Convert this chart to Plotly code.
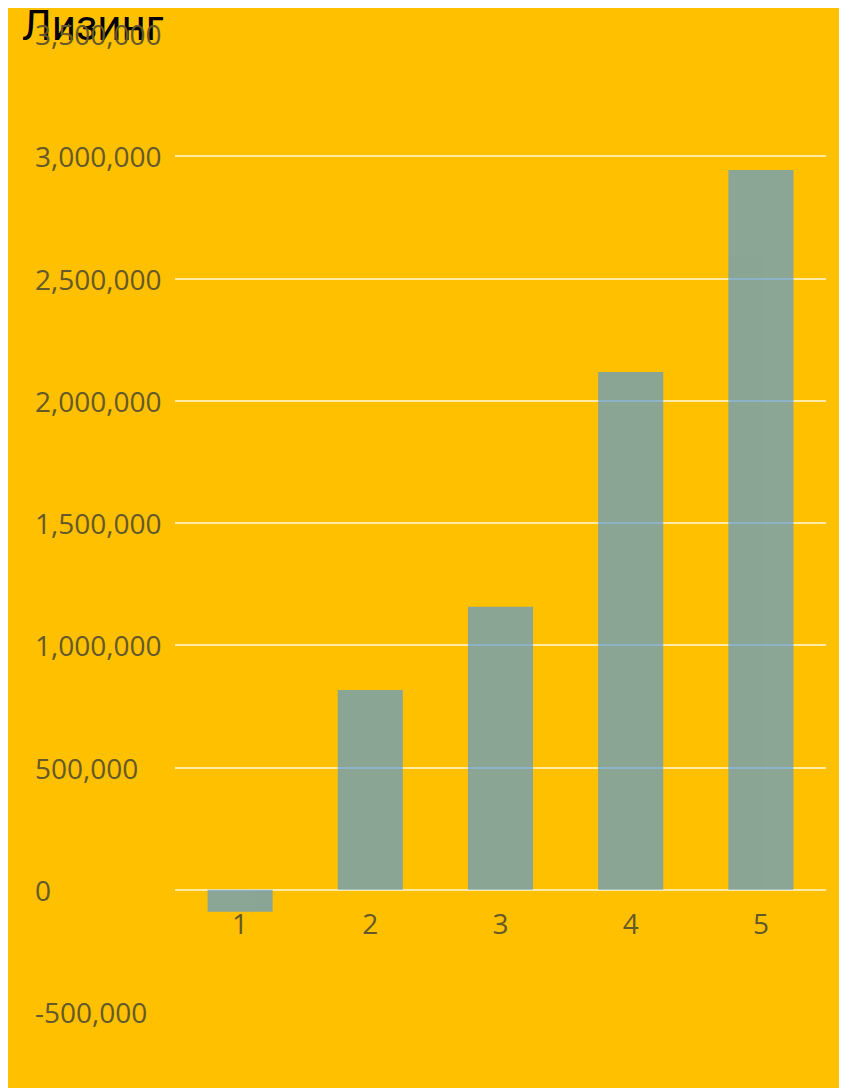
import plotly.graph_objects as go

categories = ["1", "2", "3", "4", "5"]
values = [-90000, 817000, 1157000, 2118000, 2944000]
y_tickvals = [-500000, 0, 500000, 1000000, 1500000, 2000000, 2500000, 3000000, 3500000]
y_ticktext = ["-500,000", "0", "500,000", "1,000,000", "1,500,000", "2,000,000",
              "2,500,000", "3,000,000", "3,500,000"]
title_text = "Лизинг"

W, H = 847, 1088
ml, mr, mt, mb = 167, 29, 26, 84
pw = 651

ymin, ymax = -500000, 3500000
zero_frac = (0 - ymin) / (ymax - ymin)

tick_color = "#65592A"
tick_font = dict(family="Open Sans, Noto Sans, sans-serif", size=28, color=tick_color)

fig = go.Figure(go.Bar(
    x=categories,
    y=values,
    marker=dict(color="#5B9BD5", line=dict(width=0)),
    opacity=0.7,
    width=0.5,
))

# left-aligned y tick labels
label_x = (25 - ml) / pw
annotations = [
    dict(x=label_x, xref="paper", y=v, yref="y", text=t, showarrow=False,
         xanchor="left", yanchor="middle", font=tick_font)
    for v, t in zip(y_tickvals, y_ticktext)
]

fig.update_layout(
    width=W, height=H,
    margin=dict(l=ml, r=mr, t=mt, b=mb, pad=0),
    paper_bgcolor="#FFC000",
    plot_bgcolor="rgba(0,0,0,0)",
    showlegend=False,
    annotations=annotations,
    title=dict(
        text=title_text,
        font=dict(family="Roboto, Arial, sans-serif", size=42, color="black"),
        x=14 / W, xanchor="left", xref="container",
        y=1 - 3 / H, yanchor="top", yref="container",
    ),
    xaxis=dict(
        type="category",
        range=[-0.5, 4.5],
        anchor="free",
        position=zero_frac,
        showgrid=False,
        showline=False,
        zeroline=False,
        ticks="",
        tickfont=tick_font,
        ticklabelstandoff=15,
    ),
    yaxis=dict(
        range=[ymin, ymax],
        tickvals=y_tickvals,
        showticklabels=False,
        showgrid=True,
        gridcolor="rgba(255,250,220,0.75)",
        gridwidth=2,
        zeroline=True,
        zerolinecolor="rgba(255,250,220,0.75)",
        zerolinewidth=2,
        showline=False,
        ticks="",
    ),
)

fig.write_html("out.html")
